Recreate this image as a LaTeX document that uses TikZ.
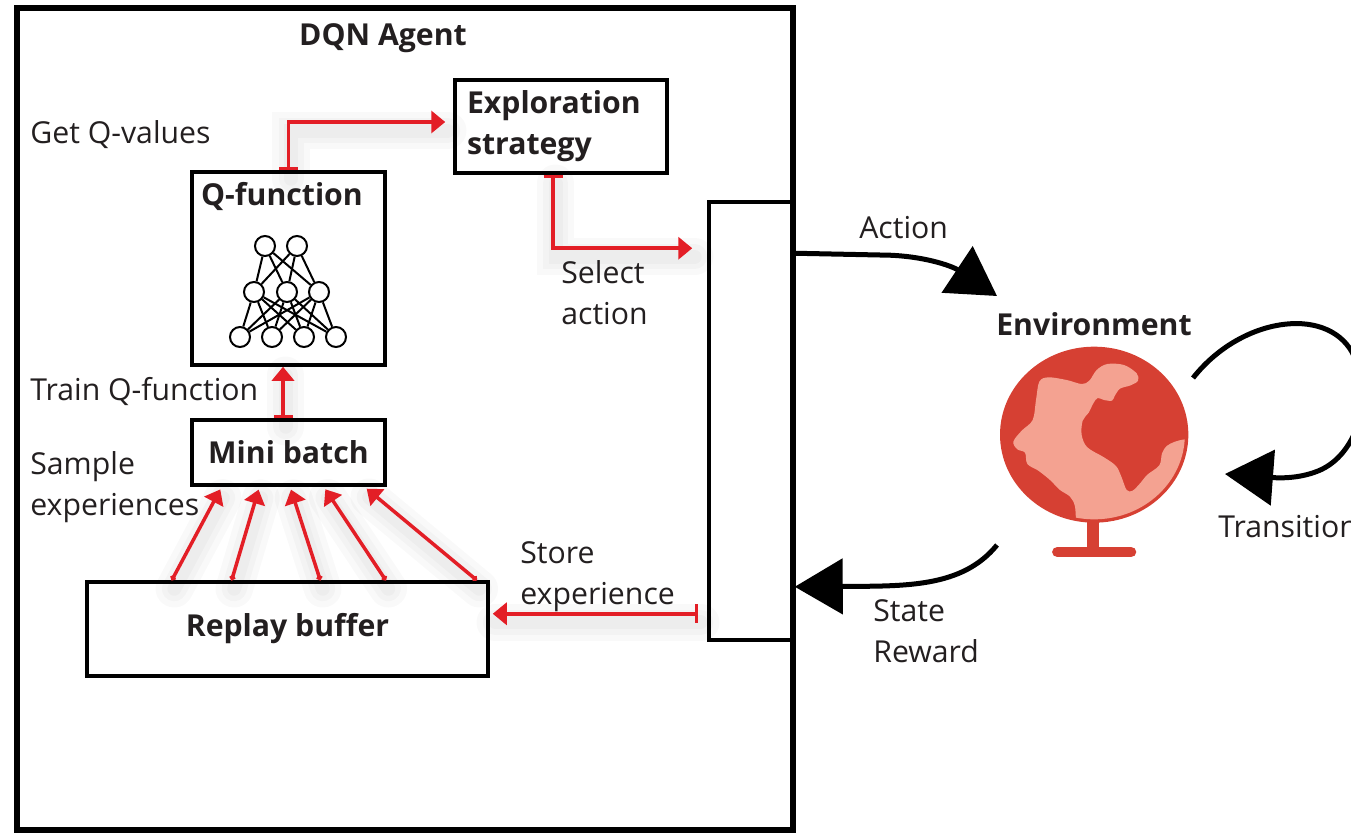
\documentclass[tikz,border=0pt]{standalone}
\usepackage{fontspec}
\setmainfont{Open Sans}
\usetikzlibrary{arrows.meta,calc}

\definecolor{ink}{HTML}{231F20}
\definecolor{arrowred}{HTML}{E31E26}
\definecolor{globedark}{HTML}{D64033}
\definecolor{globelight}{HTML}{F4A291}

\newlength\pxu
\setlength\pxu{0.02cm}

\begin{document}
\begin{tikzpicture}[x=0.02cm, y=-0.02cm,
  box/.style={draw=black, line width=3.5\pxu, inner sep=0pt, text=ink},
  lbl/.style={font=\fontsize{17.2}{23.2}\selectfont, text=ink, inner sep=0pt, align=left, anchor=base west},
  boldtxt/.style={font=\bfseries\fontsize{17.2}{23.2}\selectfont, text=ink},
  haze/.style={
    preaction={draw=black, draw opacity=0.022, line width=0.75cm, arrows=-, line cap=round,
               transform canvas={shift={(0.05cm,-0.17cm)}}},
    preaction={draw=black, draw opacity=0.025, line width=0.5cm, arrows=-, line cap=round,
               transform canvas={shift={(0.05cm,-0.17cm)}}},
    preaction={draw=black, draw opacity=0.025, line width=0.28cm, arrows=-, line cap=round,
               transform canvas={shift={(0.05cm,-0.17cm)}}}},
  redflow/.style={haze, draw=arrowred, line width=3.5\pxu,
    -{Triangle[length=0.28cm, width=0.44cm]}},
  barflow/.style={redflow, {Bar[width=0.38cm]}-{Triangle[length=0.28cm, width=0.44cm]}},
  dotflow/.style={redflow, {Circle[length=0.11cm]}-{Triangle[length=0.28cm, width=0.42cm]}},
  bigflow/.style={draw=black, line width=5\pxu,
    -{Triangle[length=0.96cm, width=1.1cm]}},
  neuron/.style={circle, draw=black, line width=2\pxu, minimum size=20\pxu, inner sep=0pt},
  synapse/.style={draw=black, line width=2\pxu}
]
\useasboundingbox (0,0) rectangle (1351,835);

% ---------------- agent frame ----------------
\node[draw=black, line width=6\pxu, minimum width=776\pxu, minimum height=822\pxu, inner sep=0pt]
  (agent) at (405,419) {};
\node[boldtxt, anchor=base] (agenttitle) at (383,45) {DQN Agent};

% ---------------- blocks ----------------
\node[box, minimum width=212\pxu, minimum height=93\pxu, align=left, text width=188\pxu,
      font=\bfseries\fontsize{17.2}{23.2}\selectfont] (explore) at (561,126.5)
  {Exploration\\strategy};
\node[box, minimum width=193\pxu, minimum height=193\pxu] (qfunc) at (288.5,268.5) {};
\node[boldtxt, anchor=base, inner sep=0pt] (qtitle) at (282,205) {Q-function};
\node[box, minimum width=193\pxu, minimum height=65\pxu, boldtxt] (minibatch) at (288.5,452.5)
  {Mini batch};
\node[box, minimum width=401\pxu, minimum height=94\pxu, boldtxt] (replay) at (287.5,629)
  {Replay buffer};
\node[box, minimum width=84\pxu, minimum height=438\pxu] (iface) at (751,421) {};

% ---------------- network inside the Q-function ----------------
\node[neuron] (t1) at (265,246) {};
\node[neuron] (t2) at (297,246) {};
\node[neuron] (m1) at (254,292) {};
\node[neuron] (m2) at (287,292) {};
\node[neuron] (m3) at (319,292) {};
\node[neuron] (b1) at (240,337) {};
\node[neuron] (b2) at (272,337) {};
\node[neuron] (b3) at (304,337) {};
\node[neuron] (b4) at (336,337) {};
\foreach \u in {t1,t2}
  \foreach \v in {m1,m2,m3}
    \draw[synapse] (\u) -- (\v);
\foreach \u in {m1,m2,m3}
  \foreach \v in {b1,b2,b3,b4}
    \draw[synapse] (\u) -- (\v);

% ---------------- red data-flow arrows ----------------
\draw[barflow, shorten >=8\pxu] (qfunc.north) |- ([yshift=0.09cm]explore.west);
\draw[barflow, shorten >=15\pxu] ([xshift=-0.16cm]explore.south) |- ([yshift=-0.96cm]iface.north west);
\draw[barflow] ([xshift=-0.11cm]minibatch.north) -- ([xshift=-0.11cm]qfunc.south);
\coordinate (storeTail) at ([yshift=0.56cm]iface.south west);
\draw[barflow, shorten <=9\pxu, shorten >=3\pxu] (storeTail) -- (storeTail -| replay.east);
\foreach \a/\b in {0.214/0.16, 0.362/0.352, 0.581/0.508, 0.743/0.679, 0.968/0.886}
  \draw[dotflow, shorten >=3\pxu]
    ($(replay.north west)!\a!(replay.north east)$) --
    ($(minibatch.south west)!\b!(minibatch.south east)$);

% ---------------- labels (base = baseline of the last line) ----------------
\node[lbl] (lq) at (30,143) {Get Q-values};
\node[lbl] (lt) at (30,400) {Train Q-function};
\node[lbl] (ls) at (30,515) {Sample\\experiences};
\node[lbl] (la) at (561,324) {Select\\action};
\node[lbl] (le) at (520,604) {Store\\experience};
\node[lbl] (lact) at (859,238) {Action};
\node[lbl] (lsr) at (873,662) {State\\Reward};
\node[lbl] (ltr) at (1218,537) {Transition};
\node[boldtxt, anchor=base] (env) at (1094,335) {Environment};

% ---------------- environment globe ----------------
\begin{scope}[shift={(980,340)}, scale=1/3]
  \draw[globedark, line width=0.24cm] (340,535) -- (340,632);
  \draw[globedark, line width=0.21cm, line cap=round] (232,636) -- (453,636);
  \fill[globedark] (342.5,284) ellipse [x radius=282.5, y radius=264];
  \begin{scope}
    \clip (342.5,284) ellipse [x radius=272, y radius=254];
    \fill[globelight]
      plot[smooth, tension=0.55] coordinates {
        (288,560) (285,500) (270,470) (240,450) (210,420) (175,392) (142,372)
        (135,338) (112,328) (100,305) (125,272) (158,240) (168,180) (178,125)
        (205,112) (260,120) (305,132) (328,122) (350,90) (382,72) (432,75)
        (470,100) (474,122) (452,136) (420,146) (404,168) (396,182) (372,180)
        (353,174) (340,190) (326,218) (308,242) (305,285) (322,322) (372,352)
        (408,378) (424,410) (440,450) (458,452) (482,428) (502,404) (538,376)
        (546,340) (560,318) (585,305) (615,298) (660,296)}
      -- (700,296) -- (700,700) -- (288,700) -- cycle;
  \end{scope}
\end{scope}

% ---------------- agent / environment loop ----------------
\coordinate (actStart) at ([yshift=-1.06cm]iface.north east);
\coordinate (actEnd) at (997,296);
\draw[bigflow] (actStart) -- (880,255) .. controls (922,255) and (952,266) .. (actEnd);

\coordinate (stStart) at (997,545);
\coordinate (stEnd) at ([yshift=1.1cm]iface.south east);
\draw[bigflow] (stStart) .. controls (962,588) and (905,586) .. (stEnd);

\coordinate (trStart) at (1193,378);
\coordinate (trEnd) at (1225,474);
\draw[bigflow] (trStart) .. controls (1240,318) and (1325,305) .. (1352,352)
  .. controls (1375,395) and (1358,455) .. (1318,471)
  .. controls (1298,479) and (1278,478) .. (trEnd);
\end{tikzpicture}
\end{document}
